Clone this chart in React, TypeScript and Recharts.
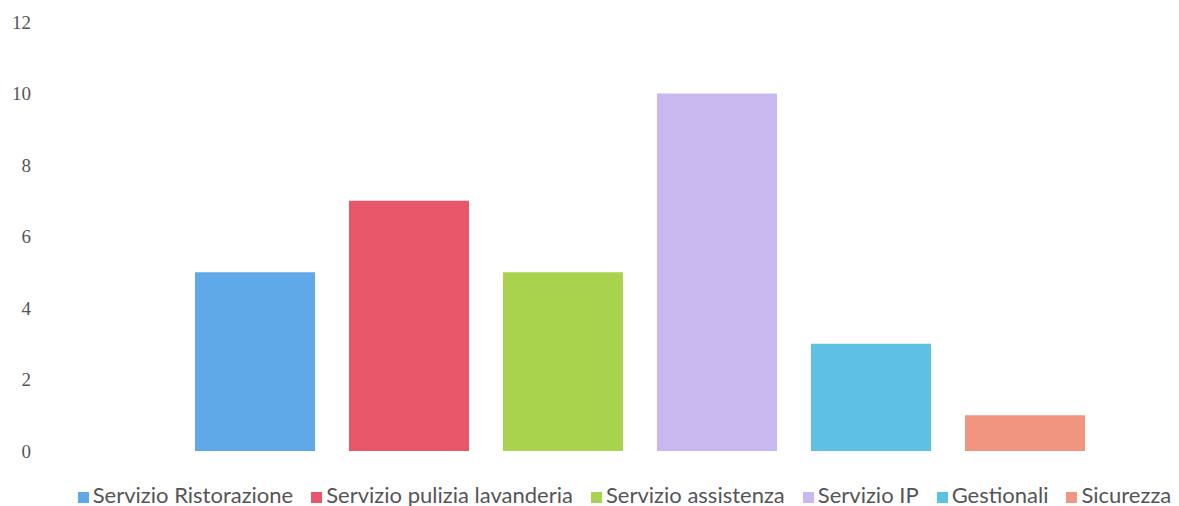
import React from "react";
import { BarChart, Bar, XAxis, YAxis, Legend } from "recharts";

const seriesNames = [
  "Servizio Ristorazione",
  "Servizio pulizia lavanderia",
  "Servizio assistenza",
  "Servizio IP",
  "Gestionali",
  "Sicurezza",
];
const seriesValues = [5, 7, 5, 10, 3, 1];
const seriesColors = ["#5fa9e8", "#e8566a", "#a9d34c", "#c8b8ef", "#5ec0e4", "#f0957f"];
const yTicks = [0, 2, 4, 6, 8, 10, 12];

const row: Record<string, string | number> = { name: "" };
seriesNames.forEach((n, i) => {
  row[n] = seriesValues[i];
});
const data = [row];

export default function App() {
  return (
    <div style={{ position: "absolute", left: 0, top: 0, background: "#fff" }}>
      <BarChart
        width={1179}
        height={506}
        data={data}
        margin={{ top: 22, right: 0, left: 0, bottom: 0 }}
        barSize={120}
        barGap={34}
      >
        <XAxis dataKey="name" hide />
        <YAxis
          width={101}
          domain={[0, 12]}
          ticks={yTicks}
          axisLine={false}
          tickLine={false}
          tickSize={0}
          tickMargin={70}
          tick={{ fill: "#555", fontSize: 19, fontFamily: "Liberation Serif" }}
        />
        <Legend
          verticalAlign="bottom"
          height={25}
          iconType="square"
          iconSize={11}
          itemSorter={(item: any) => seriesNames.indexOf(item.value)}
          wrapperStyle={{ paddingTop: 30, left: 44, fontFamily: "Lato", fontSize: 22 }}
          formatter={(value: string) => (
            <span style={{ color: "#555", marginRight: 8 }}>{value}</span>
          )}
        />
        {seriesNames.map((n, i) => (
          <Bar key={n} dataKey={n} fill={seriesColors[i]} isAnimationActive={false} />
        ))}
      </BarChart>
    </div>
  );
}
